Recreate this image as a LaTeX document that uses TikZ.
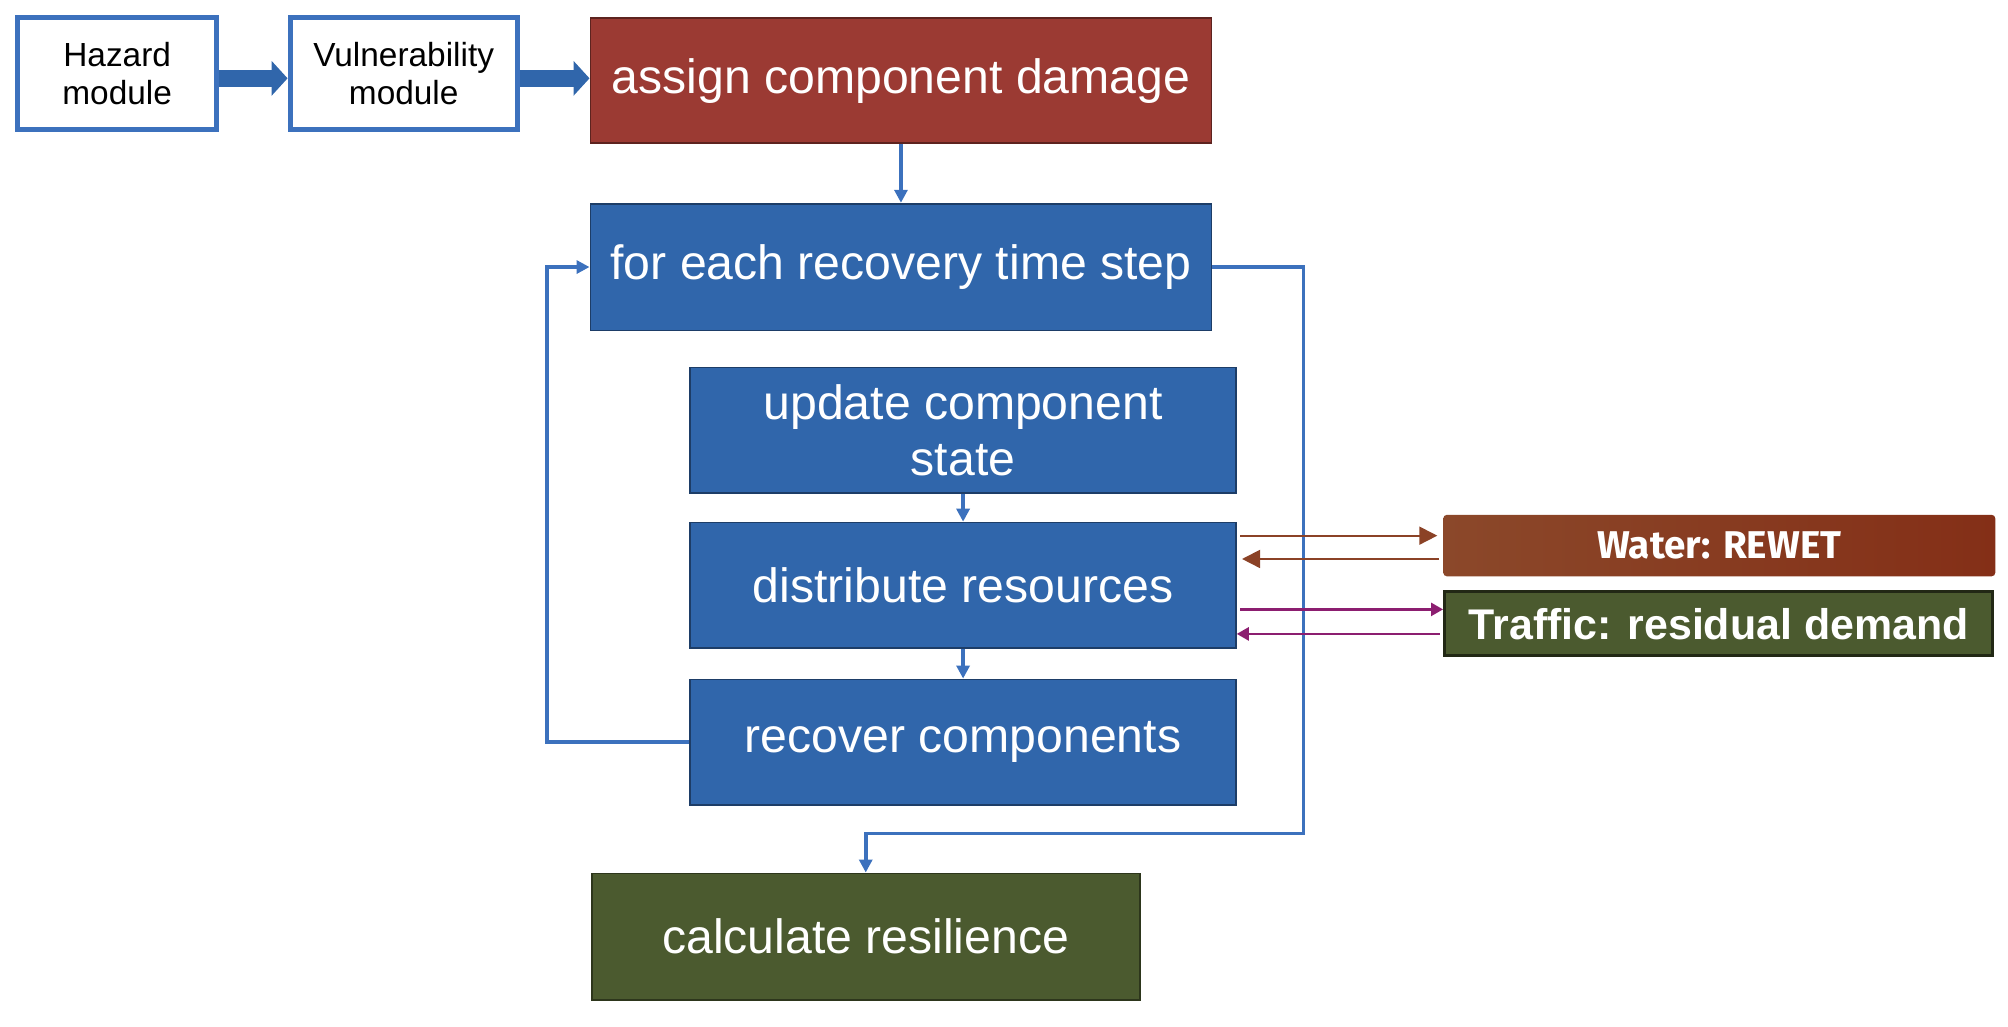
\documentclass[tikz,border=0pt]{standalone}
\usepackage{fontspec}
\setmainfont{Liberation Sans}
\newfontfamily\firasans{Fira Sans}
\usetikzlibrary{arrows.meta}
\definecolor{boxblue}{RGB}{48,102,171}
\definecolor{boxred}{RGB}{155,58,51}
\definecolor{boxgreen}{RGB}{75,90,47}
\definecolor{lineblue}{RGB}{60,113,189}
\definecolor{waterL}{RGB}{139,72,42}
\definecolor{waterR}{RGB}{132,47,23}
\definecolor{waterline}{RGB}{139,66,38}
\definecolor{trafficline}{RGB}{140,30,112}

\begin{document}
\begin{tikzpicture}[
  module/.style={draw=lineblue, line width=1.4pt, fill=white, minimum height=1.126cm,
    align=center, font=\fontsize{9.5}{10.9}\selectfont},
  stepbox/.style={draw=#1!60!black, line width=0.5pt, fill=#1, text=white, minimum height=1.254cm,
    align=center, font=\fontsize{13.7}{15.7}\selectfont},
  bigarrow/.style={draw=boxblue, line width=4.7pt, -{Triangle[length=0.16cm,width=0.34cm]}},
  flow/.style={draw=lineblue, line width=1pt, -{Triangle[length=0.13cm,width=0.13cm]}},
  waterarrow/.style={draw=waterline, line width=0.5pt, shorten <=1pt, shorten >=1.5pt,
    -{Triangle[length=0.18cm,width=0.18cm]}},
  trafficarrow/.style={draw=trafficline, line width=0.7pt, shorten <=1pt,
    -{Triangle[length=0.12cm,width=0.13cm]}}
]
\useasboundingbox (0,0) rectangle (20.07,-10.255);

\node[module, minimum width=1.984cm] (haz) at (1.171,-0.736) {Hazard\\module};
\node[module, minimum width=2.272cm] (vuln) at (4.035,-0.736) {Vulnerability\\module};
\node[stepbox=boxred, minimum width=6.208cm] (assign) at (9.005,-0.806) {assign component damage};
\node[stepbox=boxblue, minimum width=6.208cm, minimum height=1.267cm] (tstep) at (9.005,-2.669) {for each recovery time step};
\node[stepbox=boxblue, minimum width=5.453cm] (update) at (9.626,-4.301) {update component\\state};
\node[stepbox=boxblue, minimum width=5.453cm] (distr) at (9.626,-5.850) {distribute resources};
\node[stepbox=boxblue, minimum width=5.453cm] (recov) at (9.626,-7.418) {recover components};
\node[stepbox=boxgreen, minimum width=5.478cm, minimum height=1.267cm] (resil) at (8.653,-9.363) {calculate resilience};
\node[left color=waterL, right color=waterR, rounded corners=1pt, text=white, inner sep=0pt,
  minimum width=5.517cm, minimum height=0.614cm, font=\firasans\bfseries\fontsize{11}{13}\selectfont]
  (water) at (17.184,-5.453) {Water: REWET};
\node[fill=boxgreen, draw=boxgreen!45!black, line width=0.9pt, text=white, inner sep=0pt,
  minimum width=5.478cm, minimum height=0.64cm, font=\bfseries\fontsize{12.2}{14}\selectfont]
  (traffic) at (17.178,-6.234) {Traffic: residual demand};

\draw[bigarrow] ([yshift=-0.047cm]haz.east) -- ([yshift=-0.047cm]vuln.west);
\draw[bigarrow] ([yshift=-0.047cm]vuln.east) -- ([yshift=-0.047cm]vuln.east -| assign.west);
\draw[flow] (assign) -- (tstep);
\draw[flow] (update) -- (distr);
\draw[flow] (distr) -- (recov);

\coordinate (rturn) at (13.03,-8.333);
\coordinate (lturn) at (5.466,-2.669);
\draw[flow] (tstep.east) -| (rturn) -| (resil.north);
\draw[flow] (recov.west) -| (lturn) -- (tstep.west);

\draw[waterarrow] ([yshift=0.099cm]water.west -| distr.east) -- ([yshift=0.099cm]water.west);
\draw[waterarrow] ([yshift=-0.134cm]water.west) -- ([yshift=-0.134cm]water.west -| distr.east);
\draw[trafficarrow] ([yshift=0.143cm]traffic.west -| distr.east) -- ([yshift=0.143cm]traffic.west);
\draw[trafficarrow] ([yshift=-0.102cm]traffic.west) -- ([yshift=-0.102cm]traffic.west -| distr.east);
\end{tikzpicture}
\end{document}
